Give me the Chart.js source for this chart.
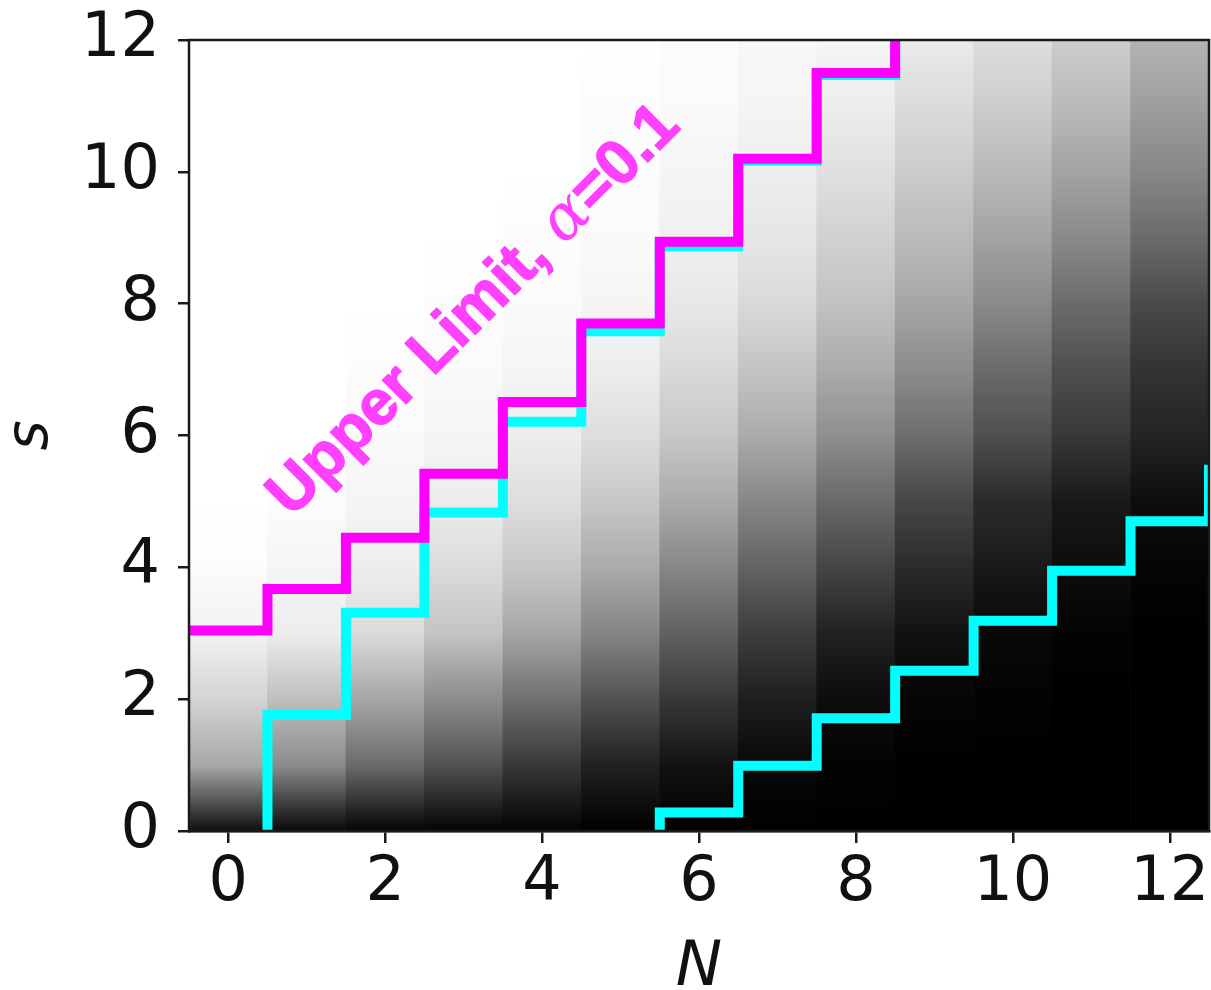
<!DOCTYPE html>
<html>
<head>
<meta charset="utf-8">
<script src="https://cdn.jsdelivr.net/npm/chart.js@4.4.0/dist/chart.umd.min.js"></script>
<style>
  html, body { margin: 0; padding: 0; background: #fff; }
  canvas { display: block; }
</style>
</head>
<body>
<canvas id="chart" width="1211" height="990"></canvas>
<script>
// grid columns (observed N) and the s rows where the shading was read
const nValues = [0, 1, 2, 3, 4, 5, 6, 7, 8, 9, 10, 11, 12];
const sLevels = [0, 1, 2, 3, 4, 5, 6, 7, 8, 9, 10, 11, 12];

// shade per column N, one value per s level (0 = white, 1 = black)
const shade = [
  [0.94, 0.34, 0.17, 0.05, 0.01, 0, 0, 0, 0, 0, 0, 0, 0],
  [0.97, 0.45, 0.25, 0.07, 0.04, 0.01, 0, 0, 0, 0, 0, 0, 0],
  [0.98, 0.58, 0.35, 0.14, 0.07, 0.04, 0.02, 0.01, 0, 0, 0, 0, 0],
  [0.99, 0.68, 0.45, 0.23, 0.14, 0.07, 0.04, 0.02, 0.01, 0, 0, 0, 0],
  [0.99, 0.78, 0.56, 0.35, 0.22, 0.13, 0.07, 0.04, 0.02, 0.01, 0, 0, 0],
  [1, 0.87, 0.68, 0.48, 0.33, 0.22, 0.13, 0.07, 0.04, 0.02, 0.01, 0.01, 0],
  [1, 0.93, 0.78, 0.62, 0.47, 0.33, 0.22, 0.15, 0.09, 0.06, 0.04, 0.02, 0.01],
  [1, 0.97, 0.88, 0.76, 0.61, 0.47, 0.33, 0.23, 0.15, 0.10, 0.07, 0.04, 0.03],
  [1, 0.99, 0.95, 0.87, 0.73, 0.59, 0.44, 0.33, 0.24, 0.18, 0.12, 0.07, 0.04],
  [1, 1, 0.98, 0.93, 0.83, 0.72, 0.57, 0.45, 0.35, 0.27, 0.20, 0.14, 0.08],
  [1, 1, 0.99, 0.97, 0.90, 0.83, 0.69, 0.58, 0.46, 0.36, 0.27, 0.20, 0.13],
  [1, 1, 1, 0.99, 0.95, 0.90, 0.78, 0.69, 0.58, 0.46, 0.36, 0.27, 0.20],
  [1, 1, 1, 1, 0.98, 0.95, 0.86, 0.80, 0.71, 0.58, 0.47, 0.38, 0.30]
];

// upper limit (magenta), one value per column N = 0..9
const upperLimit = [3.04, 3.67, 4.45, 5.42, 6.51, 7.70, 8.94, 10.2, 11.5, 12.8];
// belt edges (cyan): left edge for N = 0..9, right edge for N = 5..13
const beltLeft = [0, 1.76, 3.31, 4.83, 6.21, 7.58, 8.87, 10.17, 11.47, 12.77];
const beltRightFirstN = 5;
const beltRight = [0, 0.28, 0.99, 1.71, 2.43, 3.19, 3.95, 4.70, 5.48];

const xTicks = [0, 2, 4, 6, 8, 10, 12];
const yTicks = [0, 2, 4, 6, 8, 10, 12];
const xRange = [-0.5, 12.5];
const yRange = [0, 12];

const annotX = 3.09, annotY = 7.95, annotAngle = 45;

function grayOf(p) {
  const g = Math.round(255 * (1 - p));
  return `rgb(${g},${g},${g})`;
}

// each step point sits on the right edge of its column
function stepPoints(values, firstN, lead) {
  const pts = values.map((v, i) => ({ x: firstN + i + 0.5, y: v }));
  if (lead) pts.unshift({ x: firstN - 0.5, y: values[0] });
  return pts;
}

const labelPlugin = {
  id: 'labels',
  afterDatasetsDraw(chart) {
    const { ctx, chartArea: a, scales: { x, y } } = chart;
    ctx.save();
    ctx.strokeStyle = '#1a1a1a';
    ctx.lineWidth = 2.5;
    ctx.strokeRect(a.left, a.top, a.right - a.left, a.bottom - a.top);

    ctx.translate(x.getPixelForValue(annotX), y.getPixelForValue(annotY));
    ctx.rotate(-annotAngle * Math.PI / 180);
    const size = 63;
    const parts = [
      { text: 'Upper Limit, ', font: `bold ${size}px "Liberation Sans", Arial, sans-serif`, bold: true },
      { text: 'α', font: `italic ${size}px "DejaVu Serif", serif`, bold: false },
      { text: '=0.1', font: `bold ${size}px "Liberation Sans", Arial, sans-serif`, bold: true }
    ];
    let total = 0;
    parts.forEach(p => { ctx.font = p.font; p.w = ctx.measureText(p.text).width; total += p.w; });
    ctx.fillStyle = 'rgb(255,64,255)';
    ctx.strokeStyle = 'rgb(255,64,255)';
    ctx.lineWidth = 1.5;
    ctx.lineJoin = 'round';
    ctx.textAlign = 'left';
    ctx.textBaseline = 'alphabetic';
    let cx = -total / 2;
    parts.forEach(p => {
      ctx.font = p.font;
      ctx.fillText(p.text, cx, 0.36 * size);
      if (p.bold) ctx.strokeText(p.text, cx, 0.36 * size);
      cx += p.w;
    });
    ctx.restore();

    // axis titles
    ctx.save();
    ctx.fillStyle = '#111';
    ctx.font = 'italic 62px "DejaVu Sans"';
    ctx.textAlign = 'center';
    ctx.textBaseline = 'alphabetic';
    ctx.fillText('N', (a.left + a.right) / 2, 985);
    ctx.translate(47, (a.top + a.bottom) / 2);
    ctx.rotate(-Math.PI / 2);
    ctx.font = 'italic 58px "DejaVu Sans"';
    ctx.fillText('s', 0, 0);
    ctx.restore();
  }
};

const tickFont = { family: 'DejaVu Sans', size: 62 };

new Chart(document.getElementById('chart'), {
  data: {
    datasets: [
      {
        type: 'bar',
        order: 3,
        data: nValues.map(n => ({ x: n, y: [sLevels[0], sLevels[sLevels.length - 1]] })),
        barPercentage: 1,
        categoryPercentage: 1,
        borderWidth: 0,
        backgroundColor: (c) => {
          const chart = c.chart;
          if (!chart.chartArea || c.dataIndex === undefined) return '#888';
          const ys = chart.scales.y;
          const s0 = sLevels[0], s1 = sLevels[sLevels.length - 1];
          const g = chart.ctx.createLinearGradient(0, ys.getPixelForValue(s0), 0, ys.getPixelForValue(s1));
          shade[c.dataIndex].forEach((p, i) => g.addColorStop((sLevels[i] - s0) / (s1 - s0), grayOf(p)));
          return g;
        }
      },
      {
        type: 'line',
        order: 2,
        data: stepPoints(beltLeft, 0, false),
        borderColor: '#00ffff',
        borderWidth: 10,
        stepped: 'after',
        pointRadius: 0,
        fill: false,
        clip: 0
      },
      {
        type: 'line',
        order: 2,
        data: stepPoints(beltRight, beltRightFirstN, false),
        borderColor: '#00ffff',
        borderWidth: 10,
        stepped: 'after',
        pointRadius: 0,
        fill: false,
        clip: 0
      },
      {
        type: 'line',
        order: 1,
        data: stepPoints(upperLimit, 0, true),
        borderColor: '#ff00ff',
        borderWidth: 10,
        stepped: 'after',
        pointRadius: 0,
        fill: false,
        clip: 0
      }
    ]
  },
  options: {
    responsive: false,
    animation: false,
    devicePixelRatio: 1,
    layout: { padding: { top: 40, right: 2, left: 0, bottom: 0 } },
    plugins: { legend: { display: false }, tooltip: { enabled: false } },
    scales: {
      x: {
        type: 'linear',
        bounds: 'data',
        offset: false,
        // range set here so steps that run past the right edge are still drawn
        afterDataLimits: s => { s.min = xRange[0]; s.max = xRange[1]; },
        afterBuildTicks: s => { s.ticks = xTicks.map(v => ({ value: v })); },
        afterFit: s => { s.height = 159; s.paddingLeft = 0; s.paddingRight = 0; },
        grid: { offset: false, drawOnChartArea: false, tickLength: 12, color: '#1a1a1a', lineWidth: 2.5 },
        border: { display: true, color: '#1a1a1a', width: 2.5 },
        ticks: { font: tickFont, color: '#111', padding: 4, maxRotation: 0 }
      },
      y: {
        type: 'linear',
        min: yRange[0],
        max: yRange[1],
        afterBuildTicks: s => { s.ticks = yTicks.map(v => ({ value: v })); },
        afterFit: s => { s.width = 189; s.paddingTop = 0; s.paddingBottom = 0; },
        grid: { drawOnChartArea: false, tickLength: 11, color: '#1a1a1a', lineWidth: 2.5 },
        border: { display: true, color: '#1a1a1a', width: 2.5 },
        ticks: { font: tickFont, color: '#111', padding: 18 }
      }
    }
  },
  plugins: [labelPlugin]
});
</script>
</body>
</html>
